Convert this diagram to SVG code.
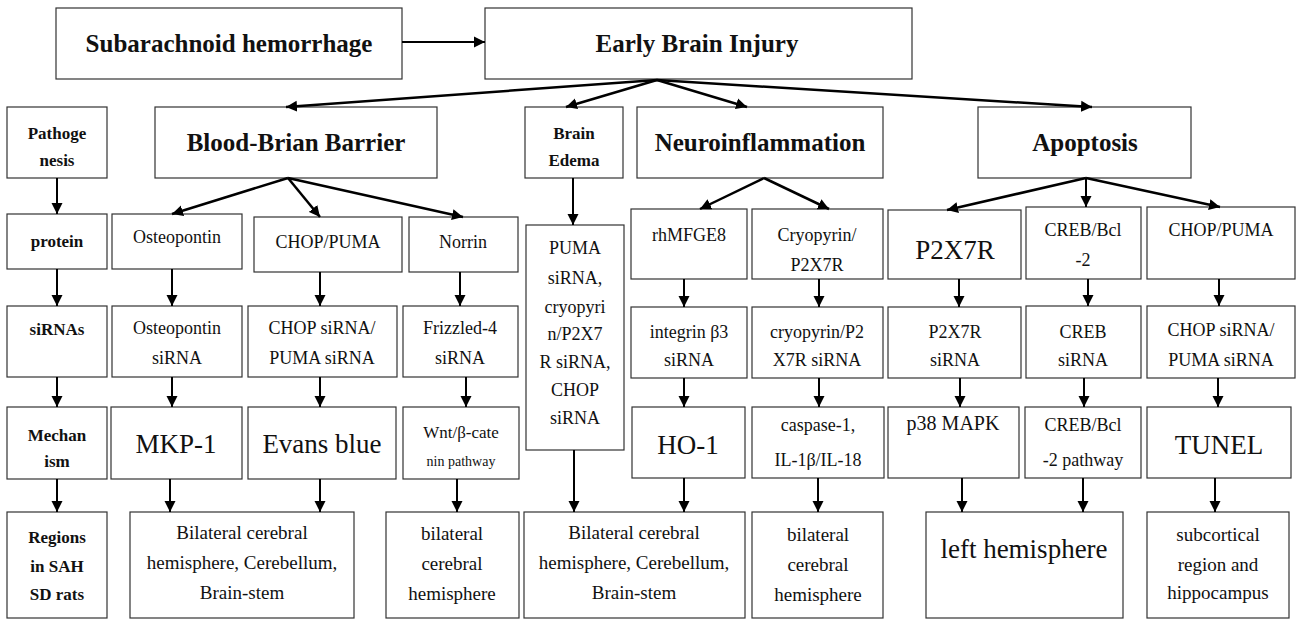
<svg xmlns="http://www.w3.org/2000/svg" width="1297" height="620" viewBox="0 0 1297 620">
<defs>
<marker id="ah" markerUnits="userSpaceOnUse" markerWidth="12" markerHeight="12" refX="11" refY="6" orient="auto">
<path d="M0,0.5 L11,6 L0,11.5 z" fill="#000"/>
</marker>
<style>
rect{fill:#fff;stroke:#333;stroke-width:1.2}
text{font-family:'Liberation Serif','Times New Roman',serif;fill:#111;text-anchor:middle}
.t{font-size:25px;font-weight:bold}
.h{font-size:17px;font-weight:bold}
.r{font-size:18px}
.g{font-size:19px}
.big{font-size:27px}
.sm{font-size:14px}
.m{font-size:17px}
.p{font-size:20px}
.c line{stroke:#000;stroke-width:2;marker-end:url(#ah)}
.c line.f{stroke-width:2.5}
</style>
</defs>
<rect x="0" y="0" width="1297" height="620" style="fill:#fff;stroke:none"/>

<g id="n_sah"><rect x="56" y="8" width="346" height="71"/><text class="t" x="229" y="52">Subarachnoid hemorrhage</text></g>
<g id="n_ebi"><rect x="485" y="8" width="427" height="71"/><text class="t" x="697" y="52">Early Brain Injury</text></g>

<g id="n_path"><rect x="7" y="107" width="100" height="71"/><text class="h" x="57" y="139">Pathoge</text><text class="h" x="57" y="166">nesis</text></g>
<g id="n_protein"><rect x="7" y="214" width="100" height="55"/><text class="h" x="57" y="247">protein</text></g>
<g id="n_sirnas"><rect x="7" y="306" width="100" height="71"/><text class="h" x="57" y="335">siRNAs</text></g>
<g id="n_mech"><rect x="7" y="407" width="100" height="72"/><text class="h" x="57" y="441">Mechan</text><text class="h" x="57" y="467">ism</text></g>
<g id="n_regions"><rect x="7" y="512" width="100" height="106"/><text class="h" x="57" y="543">Regions</text><text class="h" x="57" y="572">in SAH</text><text class="h" x="57" y="600">SD rats</text></g>

<g id="n_bbb"><rect x="155" y="107" width="282" height="71"/><text class="t" x="296" y="151">Blood-Brian Barrier</text></g>
<g id="n_osteo"><rect x="112" y="214" width="130" height="55"/><text class="r" x="177" y="243">Osteopontin</text></g>
<g id="n_chop1"><rect x="254" y="217" width="148" height="55"/><text class="r" x="328" y="248">CHOP/PUMA</text></g>
<g id="n_norrin"><rect x="409" y="217" width="109" height="55"/><text class="r" x="463" y="248">Norrin</text></g>
<g id="n_osteo_si"><rect x="112" y="306" width="130" height="71"/><text class="r" x="177" y="334">Osteopontin</text><text class="r" x="177" y="364">siRNA</text></g>
<g id="n_chop1_si"><rect x="248" y="306" width="149" height="71"/><text class="r" x="322" y="334">CHOP siRNA/</text><text class="r" x="322" y="364">PUMA siRNA</text></g>
<g id="n_frz"><rect x="403" y="306" width="115" height="71"/><text class="r" x="460" y="334">Frizzled-4</text><text class="r" x="460" y="364">siRNA</text></g>
<g id="n_mkp"><rect x="111" y="407" width="131" height="72"/><text class="big" x="176" y="453">MKP-1</text></g>
<g id="n_evans"><rect x="248" y="407" width="148" height="72"/><text class="big" x="322" y="453">Evans blue</text></g>
<g id="n_wnt"><rect x="403" y="407" width="116" height="72"/><text class="m" x="461" y="438">Wnt/β-cate</text><text class="sm" x="461" y="466">nin pathway</text></g>
<g id="n_reg_bbb"><rect x="130" y="512" width="224" height="106"/><text class="g" x="242" y="539">Bilateral cerebral</text><text class="g" x="242" y="569">hemisphere, Cerebellum,</text><text class="g" x="242" y="599">Brain-stem</text></g>
<g id="n_reg_bil1"><rect x="386" y="512" width="133" height="106"/><text class="g" x="452" y="540">bilateral</text><text class="g" x="452" y="570">cerebral</text><text class="g" x="452" y="600">hemisphere</text></g>

<g id="n_edema"><rect x="525" y="107" width="98" height="71"/><text class="h" x="574" y="139">Brain</text><text class="h" x="574" y="166">Edema</text></g>
<g id="n_edema_si"><rect x="526" y="225" width="98" height="225"/><text class="r" x="575" y="254">PUMA</text><text class="r" x="575" y="284">siRNA,</text><text class="r" x="575" y="313">cryopyri</text><text class="r" x="575" y="340">n/P2X7</text><text class="r" x="575" y="368">R siRNA,</text><text class="r" x="575" y="396">CHOP</text><text class="r" x="575" y="424">siRNA</text></g>
<g id="n_reg_edema"><rect x="524" y="512" width="221" height="106"/><text class="g" x="634" y="539">Bilateral cerebral</text><text class="g" x="634" y="569">hemisphere, Cerebellum,</text><text class="g" x="634" y="599">Brain-stem</text></g>

<g id="n_neuro"><rect x="637" y="107" width="246" height="71"/><text class="t" x="760" y="151">Neuroinflammation</text></g>
<g id="n_rhm"><rect x="631" y="209" width="116" height="70"/><text class="r" x="689" y="241">rhMFGE8</text></g>
<g id="n_cryo"><rect x="752" y="209" width="131" height="70"/><text class="r" x="817" y="241">Cryopyrin/</text><text class="r" x="817" y="271">P2X7R</text></g>
<g id="n_integrin"><rect x="631" y="307" width="116" height="71"/><text class="r" x="689" y="338">integrin β3</text><text class="r" x="689" y="366">siRNA</text></g>
<g id="n_cryo_si"><rect x="752" y="307" width="131" height="71"/><text class="r" x="817" y="338">cryopyrin/P2</text><text class="r" x="817" y="366">X7R siRNA</text></g>
<g id="n_ho1"><rect x="632" y="407" width="113" height="71"/><text class="big" x="688" y="454">HO-1</text></g>
<g id="n_casp"><rect x="752" y="407" width="132" height="71"/><text class="r" x="818" y="431">caspase-1,</text><text class="r" x="818" y="466">IL-1β/IL-18</text></g>
<g id="n_reg_casp"><rect x="752" y="512" width="131" height="106"/><text class="g" x="818" y="541">bilateral</text><text class="g" x="818" y="571">cerebral</text><text class="g" x="818" y="601">hemisphere</text></g>

<g id="n_apop"><rect x="978" y="107" width="213" height="71"/><text class="t" x="1085" y="151">Apoptosis</text></g>
<g id="n_p2x7r"><rect x="888" y="210" width="133" height="69"/><text class="big" x="955" y="259">P2X7R</text></g>
<g id="n_creb"><rect x="1026" y="207" width="115" height="72"/><text class="r" x="1083" y="236">CREB/Bcl</text><text class="r" x="1083" y="266">-2</text></g>
<g id="n_chop2"><rect x="1147" y="207" width="148" height="72"/><text class="r" x="1221" y="236">CHOP/PUMA</text></g>
<g id="n_p2x7r_si"><rect x="888" y="307" width="133" height="71"/><text class="r" x="955" y="338">P2X7R</text><text class="r" x="955" y="366">siRNA</text></g>
<g id="n_creb_si"><rect x="1026" y="306" width="115" height="72"/><text class="r" x="1083" y="338">CREB</text><text class="r" x="1083" y="366">siRNA</text></g>
<g id="n_chop2_si"><rect x="1147" y="306" width="148" height="72"/><text class="r" x="1221" y="336">CHOP siRNA/</text><text class="r" x="1221" y="366">PUMA siRNA</text></g>
<g id="n_p38"><rect x="888" y="407" width="131" height="71"/><text class="p" x="953" y="430">p38 MAPK</text></g>
<g id="n_creb_pw"><rect x="1025" y="407" width="116" height="71"/><text class="r" x="1083" y="431">CREB/Bcl</text><text class="r" x="1083" y="466">-2 pathway</text></g>
<g id="n_tunel"><rect x="1147" y="407" width="144" height="71"/><text class="big" x="1219" y="454">TUNEL</text></g>
<g id="n_reg_left"><rect x="926" y="512" width="197" height="106"/><text class="big" x="1024" y="558">left hemisphere</text></g>
<g id="n_reg_sub"><rect x="1147" y="512" width="142" height="106"/><text class="g" x="1218" y="541">subcortical</text><text class="g" x="1218" y="571">region and</text><text class="g" x="1218" y="599">hippocampus</text></g>

<g id="connectors" class="c">
<line x1="402" y1="42" x2="485" y2="42"/>
<line class="f" x1="657" y1="80" x2="286" y2="107"/>
<line class="f" x1="657" y1="80" x2="566" y2="107"/>
<line class="f" x1="657" y1="80" x2="747" y2="107"/>
<line class="f" x1="657" y1="80" x2="1092" y2="107"/>
<line x1="57" y1="178" x2="57" y2="214"/>
<line x1="57" y1="269" x2="57" y2="306"/>
<line x1="57" y1="377" x2="57" y2="407"/>
<line x1="57" y1="479" x2="57" y2="512"/>
<line class="f" x1="288" y1="178" x2="172" y2="214"/>
<line class="f" x1="288" y1="178" x2="320" y2="217"/>
<line class="f" x1="288" y1="178" x2="463" y2="217"/>
<line x1="172" y1="269" x2="172" y2="306"/>
<line x1="320" y1="272" x2="320" y2="306"/>
<line x1="460" y1="272" x2="460" y2="306"/>
<line x1="172" y1="377" x2="172" y2="407"/>
<line x1="320" y1="377" x2="320" y2="407"/>
<line x1="466" y1="377" x2="466" y2="407"/>
<line x1="170" y1="479" x2="170" y2="512"/>
<line x1="320" y1="479" x2="320" y2="512"/>
<line x1="457" y1="479" x2="457" y2="512"/>
<line x1="573" y1="178" x2="573" y2="225"/>
<line x1="574" y1="450" x2="574" y2="512"/>
<line class="f" x1="764" y1="178" x2="700" y2="209"/>
<line class="f" x1="764" y1="178" x2="829" y2="209"/>
<line x1="684" y1="279" x2="684" y2="307"/>
<line x1="819" y1="279" x2="819" y2="307"/>
<line x1="684" y1="378" x2="684" y2="407"/>
<line x1="819" y1="378" x2="819" y2="407"/>
<line x1="684" y1="478" x2="684" y2="512"/>
<line x1="818" y1="478" x2="818" y2="512"/>
<line class="f" x1="1086" y1="178" x2="947" y2="210"/>
<line x1="1086" y1="178" x2="1086" y2="207"/>
<line class="f" x1="1086" y1="178" x2="1220" y2="207"/>
<line x1="959" y1="279" x2="959" y2="307"/>
<line x1="1088" y1="279" x2="1088" y2="306"/>
<line x1="1219" y1="279" x2="1219" y2="306"/>
<line x1="960" y1="378" x2="960" y2="407"/>
<line x1="1084" y1="378" x2="1084" y2="407"/>
<line x1="1218" y1="378" x2="1218" y2="407"/>
<line x1="962" y1="478" x2="962" y2="512"/>
<line x1="1083" y1="478" x2="1083" y2="512"/>
<line x1="1215" y1="478" x2="1215" y2="512"/>
</g>
</svg>
